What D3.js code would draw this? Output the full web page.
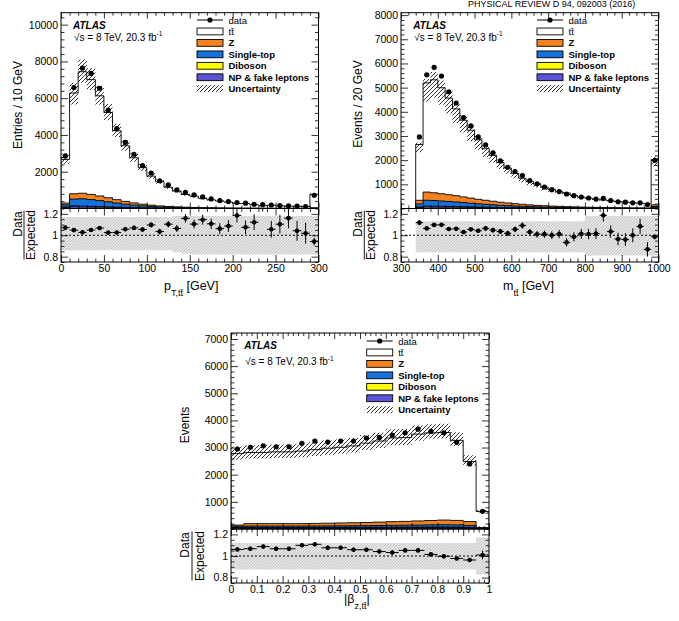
<!DOCTYPE html>
<html><head><meta charset="utf-8">
<script src="https://cdn.jsdelivr.net/npm/d3@7"></script>
<style>
body{margin:0;background:#fff}
svg{display:block}
text{font-family:"Liberation Sans",Arial,Helvetica,sans-serif;fill:#000}
</style>
</head><body>
<svg id="c" width="679" height="621"></svg>
<script>
// ---------------- DATA ----------------
const TTB = "t" + "t\u0304";
const legendLabels = ["data", TTB, "Z", "Single-top", "Diboson", "NP & fake leptons", "Uncertainty"];

// pT(tt) [GeV], 10 GeV bins
const ptEdges = [0,10,20,30,40,50,60,70,80,90,100,110,120,130,140,150,160,170,180,190,200,210,220,230,240,250,260,270,280,290,300];
const ptData  = [2860,6580,7640,7350,6540,5350,4340,3600,2950,2340,1930,1510,1280,1010,880,740,630,520,430,380,320,290,230,210,190,160,145,125,110,720];
const ptTT    = [2370,5480,6610,6245,5450,4635,3750,3024,2457,1985,1577,1319,1048,861,689,613,504,433,375,326,251,254,191,149,171,137,118,114,102,732];
const ptZ     = [100,290,300,280,250,220,180,150,120,90,70,55,45,35,28,22,18,14,11,9,7,6,5,4,3,3,2,2,2,10];
const ptST    = [120,370,400,370,330,280,230,180,140,110,85,65,50,40,32,26,21,17,14,11,9,7,6,5,4,3,3,2,2,15];
const ptDib   = [20,40,40,35,30,25,20,16,13,10,8,6,5,4,3,3,2,2,2,1,1,1,1,1,1,1,1,1,1,3];
const ptNP    = [60,100,90,80,70,60,50,40,30,25,20,15,12,10,8,6,5,4,3,3,2,2,2,1,1,1,1,1,1,5];
const ptUncLo = [0.91,0.9,0.92,0.92,0.92,0.92,0.92,0.92,0.92,0.92,0.92,0.92,0.92,0.92,0.92,0.92,0.92,0.92,0.92,0.92,0.92,0.92,0.92,0.92,0.92,0.92,0.92,0.92,0.92,0.92];
const ptUncHi = [1.12,1.09,1.09,1.09,1.09,1.09,1.09,1.09,1.09,1.09,1.09,1.09,1.09,1.09,1.09,1.09,1.09,1.09,1.09,1.09,1.09,1.09,1.09,1.09,1.09,1.09,1.09,1.09,1.09,1.09];
const ptBandLo = [0.86,0.86,0.86,0.86,0.86,0.86,0.86,0.86,0.86,0.86,0.86,0.86,0.86,0.84,0.83,0.82,0.82,0.82,0.82,0.82,0.82,0.82,0.82,0.82,0.82,0.82,0.82,0.82,0.82,0.82];
const ptBandHi = [1.17,1.17,1.17,1.17,1.17,1.17,1.17,1.17,1.17,1.17,1.17,1.17,1.17,1.18,1.18,1.18,1.18,1.18,1.18,1.18,1.18,1.18,1.18,1.18,1.18,1.18,1.18,1.18,1.18,1.18];
const ptXTicks = [0,50,100,150,200,250,300];
const ptYTicks = [2000,4000,6000,8000,10000];

// m(tt) [GeV], 20 GeV bins
const mttEdges = [340,360,380,400,420,440,460,480,500,520,540,560,580,600,620,640,660,680,700,720,740,760,780,800,820,840,860,880,900,920,940,960,980,1000];
const mttData  = [2960,5530,5840,5480,4830,4365,3760,3415,2960,2630,2300,1970,1706,1530,1363,1150,1020,890,780,702,600,530,475,435,390,420,330,277,260,235,235,165,1995];
const mttTT    = [2308,4517,4674,4385,3995,3588,3170,2807,2461,2132,1895,1642,1446,1250,1075,967,880,766,680,606,566,470,409,378,338,314,284,256,244,211,196,172,1875];
const mttZ     = [150,340,320,300,280,260,235,210,185,165,145,125,110,95,84,72,62,55,48,42,37,33,29,25,22,19,17,15,13,12,10,9,70];
const mttST    = [130,240,235,220,205,190,172,155,137,123,108,94,83,72,63,54,47,42,36,32,28,25,22,19,17,15,13,11,10,9,8,6,55];
const mttDib   = [20,30,30,28,27,25,23,21,19,17,15,13,12,10,9,8,7,6,5,5,4,4,3,3,3,2,2,2,2,1,1,1,8];
const mttNP    = [40,70,65,62,58,55,50,44,39,35,32,28,25,23,19,16,14,12,11,9,8,6,6,5,4,4,3,3,2,2,2,2,17];
const mttUncLo = [0.88,0.85,0.86,0.86,0.86,0.86,0.86,0.86,0.86,0.86,0.86,0.86,0.86,0.86,0.86,0.86,0.86,0.86,0.86,0.86,0.86,0.86,0.86,0.86,0.86,0.86,0.86,0.86,0.86,0.86,0.86,0.86,0.86];
const mttUncHi = [1.03,1.03,1.06,1.06,1.06,1.06,1.06,1.06,1.06,1.06,1.06,1.06,1.06,1.06,1.06,1.06,1.06,1.06,1.06,1.06,1.06,1.06,1.06,1.06,1.06,1.06,1.06,1.06,1.06,1.06,1.06,1.06,1.06];
const mttBandLo = [0.84,0.84,0.84,0.84,0.84,0.84,0.84,0.84,0.84,0.84,0.84,0.84,0.84,0.84,0.84,0.84,0.84,0.84,0.84,0.84,0.84,0.84,0.84,0.81,0.81,0.81,0.81,0.81,0.81,0.81,0.81,0.81,0.81];
const mttBandHi = [1.13,1.13,1.13,1.13,1.13,1.13,1.13,1.13,1.13,1.13,1.13,1.13,1.13,1.13,1.13,1.13,1.13,1.13,1.13,1.13,1.13,1.13,1.13,1.18,1.18,1.18,1.18,1.18,1.18,1.18,1.18,1.18,1.18];
const mttXTicks = [300,400,500,600,700,800,900,1000];
const mttYTicks = [1000,2000,3000,4000,5000,6000,7000,8000];

// |beta_z(tt)|, 0.05 bins
const betaEdges = [0,0.05,0.1,0.15,0.2,0.25,0.3,0.35,0.4,0.45,0.5,0.55,0.6,0.65,0.7,0.75,0.8,0.85,0.9,0.95,1];
const betaData  = [2946,3008,3067,3030,3030,3155,3239,3202,3239,3239,3349,3374,3459,3543,3678,3594,3543,3191,2397,651];
const betaTT    = [2634,2621,2624,2642,2642,2673,2717,2762,2788,2830,2926,2987,3082,3088,3200,3229,3225,2949,2216,590];
const betaZ     = [40,90,90,90,90,90,95,100,105,110,115,125,135,140,150,160,170,165,140,25];
const betaST    = [50,55,55,55,55,55,56,58,60,62,64,68,72,76,80,84,88,85,75,12];
const betaDib   = [8,8,8,8,8,8,9,9,9,10,10,10,11,11,12,12,13,12,10,3];
const betaNP    = [45,45,45,45,45,45,46,47,48,49,50,51,52,53,54,56,58,55,48,15];
const betaUncLo = [0.92,0.92,0.92,0.92,0.92,0.92,0.92,0.92,0.92,0.92,0.92,0.92,0.92,0.92,0.93,0.94,0.94,0.94,0.94,0.94];
const betaUncHi = [1.095,1.095,1.095,1.095,1.095,1.095,1.095,1.095,1.095,1.095,1.095,1.095,1.095,1.095,1.09,1.09,1.09,1.09,1.09,1.09];
const betaBandLo = [0.875,0.875,0.875,0.875,0.875,0.875,0.875,0.875,0.875,0.875,0.875,0.875,0.875,0.875,0.875,0.875,0.875,0.875,0.875,0.83];
const betaBandHi = [1.12,1.12,1.12,1.12,1.12,1.12,1.12,1.12,1.12,1.12,1.12,1.12,1.12,1.12,1.12,1.12,1.12,1.12,1.12,1.17];
const betaXTicks = [0,0.1,0.2,0.3,0.4,0.5,0.6,0.7,0.8,0.9,1];
const betaYTicks = [1000,2000,3000,4000,5000,6000,7000];

const ratioYTicks = [0.8,1,1.2];

// ---------------- STYLE ----------------
const COL = {z:"#f5821f", st:"#1572dc", dib:"#ffff00", np:"#5b52d6"};
const FONT = '"Liberation Sans",Arial,Helvetica,sans-serif';

const svg = d3.select("#c");
const defs = svg.append("defs");
const hp = defs.append("pattern").attr("id","hatch").attr("patternUnits","userSpaceOnUse").attr("width",4).attr("height",4);
hp.append("path").attr("d","M-1,1 l2,-2 M0,4 l4,-4 M3,5 l2,-2").attr("stroke","#000").attr("stroke-width",0.8);
const gp = defs.append("pattern").attr("id","gband").attr("patternUnits","userSpaceOnUse").attr("width",3).attr("height",3);
gp.append("rect").attr("width",3).attr("height",3).attr("fill","#e6e6e6");
gp.append("path").attr("d","M-1,1 l2,-2 M0,3 l3,-3 M2,4 l2,-2").attr("stroke","#b8b8b8").attr("stroke-width",0.7);

// journal header at the very top of the page
svg.append("text").attr("x",468).attr("y",7).attr("font-family",'"Liberation Serif","Times New Roman",serif')
  .attr("font-size",9).attr("fill","#333").text("PHYSICAL REVIEW D 94, 092003 (2016)");

const panels = [
  {edges:ptEdges, data:ptData, tt:ptTT, z:ptZ, st:ptST, dib:ptDib, np:ptNP, uncLo:ptUncLo, uncHi:ptUncHi,
   bandLo:ptBandLo, bandHi:ptBandHi, xTicks:ptXTicks, yTicks:ptYTicks, xMinor:10, yMinor:400,
   xDomain:[0,300], x0:61, x1:318.5, top:12.7, split:208.5, bottom:262, ymax:10650,
   yTitle:"Entries / 10 GeV", yTitleX:17.5, yTitleY:105, dataX:17.5, fracX:24, expX:31, expY:235, dataY:224,
   xTitle:{x:164, y:290, parts:[{t:"p"},{t:"T,"+TTB, sub:true},{t:" [GeV]"}]},
   legX:197, legY:20, atlasX:73, atlasY:25, sqrtY:36.5, xLabY:3},
  {edges:mttEdges, data:mttData, tt:mttTT, z:mttZ, st:mttST, dib:mttDib, np:mttNP, uncLo:mttUncLo, uncHi:mttUncHi,
   bandLo:mttBandLo, bandHi:mttBandHi, xTicks:mttXTicks, yTicks:mttYTicks, xMinor:20, yMinor:200,
   xDomain:[300,1000], x0:401, x1:658.5, top:12.7, split:208.5, bottom:262, ymax:8100,
   yTitle:"Events / 20 GeV", yTitleX:357.5, yTitleY:104, dataX:357.7, fracX:364.3, expX:371, expY:235, dataY:224,
   xTitle:{x:503, y:290, parts:[{t:"m"},{t:TTB, sub:true},{t:"  [GeV]"}]},
   legX:537, legY:20, atlasX:413.3, atlasY:25, sqrtY:36.5, xLabY:3},
  {edges:betaEdges, data:betaData, tt:betaTT, z:betaZ, st:betaST, dib:betaDib, np:betaNP, uncLo:betaUncLo, uncHi:betaUncHi,
   bandLo:betaBandLo, bandHi:betaBandHi, xTicks:betaXTicks, yTicks:betaYTicks, xMinor:0.02, yMinor:200,
   xDomain:[0,1], x0:231, x1:489, top:333, split:529, bottom:583, ymax:7220,
   yTitle:"Events", yTitleX:185, yTitleY:425, dataX:185, fracX:192, expX:199.5, expY:556, dataY:545,
   xTitle:{x:344, y:603, parts:[{t:"|\u03b2"},{t:"z,"+TTB, sub:true},{t:"|"}]},
   legX:366.7, legY:341, atlasX:244.3, atlasY:345.7, sqrtY:361, xLabY:3}
];

function fmtNum(v){ return String(+v.toFixed(3)); }
function minorVals(d0, d1, step, majors){
  const out = [];
  for (let k = Math.ceil(d0/step - 1e-9); k*step <= d1 + 1e-9; k++){
    const v = +(k*step).toFixed(6);
    if (!majors.some(m => Math.abs(m - v) < step*1e-3)) out.push(v);
  }
  return out;
}
function axisG(axisFn, scale, vals, size, transform, labels, pad){
  const a = axisFn(scale).tickValues(vals).tickSize(size).tickPadding(pad||3)
    .tickFormat(labels ? fmtNum : () => "");
  const g = svg.append("g").attr("transform", transform).call(a);
  g.select(".domain").remove();
  g.attr("font-family", FONT).attr("font-size", 10.5);
  g.selectAll("line").attr("stroke","#000").attr("stroke-width",0.8);
  g.selectAll("text").attr("fill","#000");
  return g;
}

panels.forEach((p, idx) => {
  const n = p.data.length, e = p.edges;
  const x = d3.scaleLinear().domain(p.xDomain).range([p.x0, p.x1]);
  const y = d3.scaleLinear().domain([0, p.ymax]).range([p.split, p.top]);
  const yr = d3.scaleLinear().domain([0.75, 1.25]).range([p.bottom, p.split]);

  // cumulative stack: NP (bottom), Diboson, Single-top, Z, ttbar (top)
  const comps = [p.np, p.dib, p.st, p.z, p.tt];
  const fills = [COL.np, COL.dib, COL.st, COL.z, "#ffffff"];
  let run = new Array(n).fill(0);
  const cum = comps.map(c => (run = run.map((v,i) => v + c[i])));
  const total = cum[4];

  defs.append("clipPath").attr("id","cm"+idx).append("rect")
    .attr("x",p.x0).attr("y",p.top).attr("width",p.x1-p.x0).attr("height",p.split-p.top);
  defs.append("clipPath").attr("id","cr"+idx).append("rect")
    .attr("x",p.x0).attr("y",p.split).attr("width",p.x1-p.x0).attr("height",p.bottom-p.split);

  const stepPts = (lo, hi) => {
    const pts = e.slice(0, n).map((ed, i) => ({x:ed, lo:lo(i), hi:hi(i)}));
    pts.push({x:e[n], lo:lo(n-1), hi:hi(n-1)});
    return pts;
  };
  const area = yy => d3.area().x(d => x(d.x)).y0(d => yy(d.lo)).y1(d => yy(d.hi)).curve(d3.curveStepAfter);

  // ---- main panel ----
  const gm = svg.append("g").attr("clip-path","url(#cm"+idx+")");
  for (let k = 4; k >= 0; k--) {
    gm.append("path").attr("d", area(y)(stepPts(() => 0, i => cum[k][i])))
      .attr("fill", fills[k]).attr("stroke","#000").attr("stroke-width",0.9);
  }
  gm.append("path").attr("d", area(y)(stepPts(i => total[i]*p.uncLo[i], i => total[i]*p.uncHi[i])))
    .attr("fill","url(#hatch)");
  p.data.forEach((v, i) => {
    const cx = x((e[i]+e[i+1])/2), s = Math.sqrt(v);
    gm.append("line").attr("x1",cx).attr("x2",cx).attr("y1",y(v-s)).attr("y2",y(v+s)).attr("stroke","#000").attr("stroke-width",1);
    gm.append("circle").attr("cx",cx).attr("cy",y(v)).attr("r",2.6).attr("fill","#000");
  });

  // ---- ratio panel ----
  const gr = svg.append("g").attr("clip-path","url(#cr"+idx+")");
  gr.append("path").attr("d", area(yr)(stepPts(i => p.bandLo[i], i => p.bandHi[i]))).attr("fill","url(#gband)");
  gr.append("line").attr("x1",p.x0).attr("x2",p.x1).attr("y1",yr(1)).attr("y2",yr(1))
    .attr("stroke","#000").attr("stroke-width",1).attr("stroke-dasharray","2,2");
  p.data.forEach((v, i) => {
    const r = v / total[i], er = Math.sqrt(v) / total[i];
    const cx = x((e[i]+e[i+1])/2);
    gr.append("line").attr("x1",x(e[i])).attr("x2",x(e[i+1])).attr("y1",yr(r)).attr("y2",yr(r)).attr("stroke","#000").attr("stroke-width",1);
    gr.append("line").attr("x1",cx).attr("x2",cx).attr("y1",yr(r-er)).attr("y2",yr(r+er)).attr("stroke","#000").attr("stroke-width",1);
    gr.append("circle").attr("cx",cx).attr("cy",yr(r)).attr("r",2.3).attr("fill","#000");
  });

  // ---- frames ----
  svg.append("rect").attr("x",p.x0).attr("y",p.top).attr("width",p.x1-p.x0).attr("height",p.split-p.top)
    .attr("fill","none").attr("stroke","#000").attr("stroke-width",1);
  svg.append("rect").attr("x",p.x0).attr("y",p.split).attr("width",p.x1-p.x0).attr("height",p.bottom-p.split)
    .attr("fill","none").attr("stroke","#000").attr("stroke-width",1);

  // ---- axes ----
  const xMin = minorVals(p.xDomain[0], p.xDomain[1], p.xMinor, p.xTicks);
  const yMin = minorVals(0, p.ymax, p.yMinor, p.yTicks.concat([0]));
  const rMin = minorVals(0.75, 1.25, 0.05, ratioYTicks);
  axisG(d3.axisLeft, y, p.yTicks, -7, `translate(${p.x0},0)`, true, 3);
  axisG(d3.axisLeft, y, yMin, -3.5, `translate(${p.x0},0)`, false);
  axisG(d3.axisRight, y, p.yTicks, -7, `translate(${p.x1},0)`, false);
  axisG(d3.axisRight, y, yMin, -3.5, `translate(${p.x1},0)`, false);
  axisG(d3.axisTop, x, p.xTicks, -6, `translate(0,${p.top})`, false);
  axisG(d3.axisTop, x, xMin, -3, `translate(0,${p.top})`, false);
  axisG(d3.axisBottom, x, p.xTicks, -6, `translate(0,${p.split})`, false);
  axisG(d3.axisBottom, x, xMin, -3, `translate(0,${p.split})`, false);
  axisG(d3.axisLeft, yr, ratioYTicks, -7, `translate(${p.x0},0)`, true, 3);
  axisG(d3.axisLeft, yr, rMin, -3.5, `translate(${p.x0},0)`, false);
  axisG(d3.axisRight, yr, ratioYTicks, -7, `translate(${p.x1},0)`, false);
  axisG(d3.axisRight, yr, rMin, -3.5, `translate(${p.x1},0)`, false);
  axisG(d3.axisTop, x, p.xTicks, -7, `translate(0,${p.split})`, false);
  axisG(d3.axisTop, x, xMin, -3.5, `translate(0,${p.split})`, false);
  axisG(d3.axisBottom, x, p.xTicks, -7, `translate(0,${p.bottom})`, true, p.xLabY);
  axisG(d3.axisBottom, x, xMin, -3.5, `translate(0,${p.bottom})`, false);

  // ---- titles ----
  svg.append("text").attr("transform",`translate(${p.yTitleX},${p.yTitleY}) rotate(-90)`)
    .attr("text-anchor","middle").attr("dominant-baseline","central").attr("font-size",12).text(p.yTitle);
  svg.append("text").attr("transform",`translate(${p.dataX},${p.dataY}) rotate(-90)`)
    .attr("text-anchor","middle").attr("dominant-baseline","central").attr("font-size",12).text("Data");
  svg.append("text").attr("transform",`translate(${p.expX},${p.expY}) rotate(-90)`)
    .attr("text-anchor","middle").attr("dominant-baseline","central").attr("font-size",12).text("Expected");
  svg.append("line").attr("x1",p.fracX).attr("x2",p.fracX).attr("y1",p.expY-24.5).attr("y2",p.expY+24.5)
    .attr("stroke","#000").attr("stroke-width",0.9);

  const xt = svg.append("text").attr("x",p.xTitle.x).attr("y",p.xTitle.y).attr("font-size",12.5);
  let shifted = 0;
  p.xTitle.parts.forEach(pt => {
    const ts = xt.append("tspan").text(pt.t);
    if (pt.sub) { ts.attr("font-size",9).attr("dy",6); shifted = 6; }
    else if (shifted) { ts.attr("dy",-shifted); shifted = 0; }
  });

  // ATLAS label
  svg.append("text").attr("x",p.atlasX).attr("y",p.atlasY).attr("dominant-baseline","central")
    .attr("font-size",10).attr("font-weight","bold").attr("font-style","italic").text("ATLAS");
  const st = svg.append("text").attr("x",p.atlasX+1).attr("y",p.sqrtY).attr("dominant-baseline","central").attr("font-size",10);
  st.append("tspan").text("\u221As = 8 TeV,  20.3 fb");
  st.append("tspan").attr("font-size",6.5).attr("dy",-3.5).text("-1");

  // legend
  legendLabels.forEach((lab, i) => {
    const ly = p.legY + i*11.45, bx = p.legX, bw = 26;
    if (i === 0) {
      svg.append("line").attr("x1",bx).attr("x2",bx+bw).attr("y1",ly).attr("y2",ly).attr("stroke","#000").attr("stroke-width",1);
      svg.append("circle").attr("cx",bx+bw/2).attr("cy",ly).attr("r",2.6).attr("fill","#000");
    } else if (i === 6) {
      svg.append("rect").attr("x",bx).attr("y",ly-3.5).attr("width",bw).attr("height",7).attr("fill","url(#hatch)");
    } else {
      const f = ["#ffffff", COL.z, COL.st, COL.dib, COL.np][i-1];
      svg.append("rect").attr("x",bx).attr("y",ly-3.4).attr("width",bw).attr("height",6.8)
        .attr("fill",f).attr("stroke","#000").attr("stroke-width",0.9);
    }
    svg.append("text").attr("x",bx+bw+5.5).attr("y",ly).attr("dominant-baseline","central")
      .attr("font-size",9.5).attr("font-weight", i <= 1 ? "normal" : "bold").text(lab);
  });
});
</script>
</body></html>
